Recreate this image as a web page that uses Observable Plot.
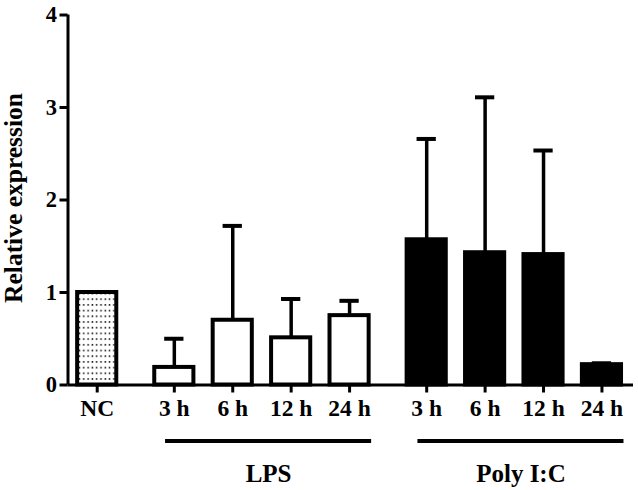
<!DOCTYPE html>
<html>
<head>
<meta charset="utf-8">
<script src="https://cdn.jsdelivr.net/npm/d3@7"></script>
<script src="https://cdn.jsdelivr.net/npm/@observablehq/plot@0.6"></script>
<style>
  html, body { margin: 0; padding: 0; background: #fff; }
  svg { font-family: "Liberation Serif", "Times New Roman", serif; }
</style>
</head>
<body>
<div id="chart"></div>
<script>
// Data
const tickLabels = ["NC", "3 h", "6 h", "12 h", "24 h", "3 h", "6 h", "12 h", "24 h"];
const groups = ["NC", "LPS", "LPS", "LPS", "LPS", "Poly I:C", "Poly I:C", "Poly I:C", "Poly I:C"];
const groupNames = ["LPS", "Poly I:C"];
const means = [1.0, 0.19, 0.70, 0.51, 0.75, 1.57, 1.43, 1.41, 0.22];
const upper = [null, 0.50, 1.72, 0.93, 0.91, 2.66, 3.11, 2.535, 0.235];
const yTicks = [0, 1, 2, 3, 4];

// Layout: groups separated by an extra gap
const groupGap = 0.32;
const groupOrder = ["NC", "LPS", "Poly I:C"];
const data = means.map((m, i) => ({
  label: tickLabels[i],
  group: groups[i],
  mean: m,
  upper: upper[i],
  pos: i + groupGap * groupOrder.indexOf(groups[i])
}));
const positions = data.map(d => d.pos);
const labelMap = new Map(data.map(d => [d.pos, d.label]));
const halfW = 0.335;
const capHalf = 0.165;
const xMin = -0.5, xMax = 9.18;

const groupLines = groupNames.map(g => {
  const ps = data.filter(d => d.group === g).map(d => d.pos);
  return { name: g, x1: d3.min(ps) - 0.15, x2: d3.max(ps) + 0.377 };
});

const errData = data.filter(d => d.upper != null);

const chart = Plot.plot({
  width: 638,
  height: 490,
  marginLeft: 67.5,
  marginRight: 5,
  marginTop: 14.5,
  marginBottom: 105.5,
  x: { type: "linear", domain: [xMin, xMax] },
  y: { domain: [0, 4] },
  style: { fontFamily: "Liberation Serif, Times New Roman, serif", color: "black", background: "white" },
  marks: [
    // error bars
    Plot.ruleX(errData, { x: "pos", y1: "mean", y2: "upper", stroke: "black", strokeWidth: 3.5 }),
    Plot.ruleY(errData, { y: "upper", x1: d => d.pos - capHalf, x2: d => d.pos + capHalf, stroke: "black", strokeWidth: 4 }),
    // bars
    Plot.rect(data.filter(d => d.group === "NC"), { x1: d => d.pos - halfW, x2: d => d.pos + halfW, y1: 0, y2: "mean", fill: "url(#dots)", stroke: "black", strokeWidth: 4 }),
    Plot.rect(data.filter(d => d.group === "LPS"), { x1: d => d.pos - halfW, x2: d => d.pos + halfW, y1: 0, y2: "mean", fill: "white", stroke: "black", strokeWidth: 4 }),
    Plot.rect(data.filter(d => d.group === "Poly I:C"), { x1: d => d.pos - halfW, x2: d => d.pos + halfW, y1: 0, y2: "mean", fill: "black", stroke: "black", strokeWidth: 4 }),
    // axes
    Plot.ruleY([0], { x1: xMin, x2: xMax, stroke: "black", strokeWidth: 3 }),
    Plot.ruleX([xMin], { y1: 0, y2: 4, stroke: "black", strokeWidth: 3 }),
    Plot.axisY({ ticks: yTicks, tickFormat: d => String(d), tickSize: 8, tickPadding: 3, fontSize: 22.5, fontWeight: "bold", strokeWidth: 3, label: null }),
    Plot.axisX({ ticks: positions, tickFormat: d => labelMap.get(d), tickSize: 8, tickPadding: 6.5, fontSize: 23.5, fontWeight: "bold", strokeWidth: 3, label: null }),
    // y label
    Plot.text(["Relative expression"], { frameAnchor: "left", textAnchor: "middle", rotate: -90, dx: -54, dy: -2, fontSize: 25.5, fontWeight: "bold", fill: "black" }),
    // group lines and labels
    Plot.ruleY(groupLines, { x1: "x1", x2: "x2", y: 0, dy: 56, stroke: "black", strokeWidth: 4 }),
    Plot.text(groupLines, { x: d => (d.x1 + d.x2) / 2, y: 0, dy: 88.5, text: "name", fontSize: 25, fontWeight: "bold", fill: "black" })
  ]
});

// dotted pattern for NC bar
const defs = d3.select(chart).insert("defs", ":first-child");
const pat = defs.append("pattern")
  .attr("id", "dots")
  .attr("patternUnits", "userSpaceOnUse")
  .attr("width", 4.3)
  .attr("height", 5.7);
pat.append("rect").attr("width", 4.3).attr("height", 5.7).attr("fill", "white");
pat.append("circle").attr("cx", 2.1).attr("cy", 2.8).attr("r", 0.85).attr("fill", "#000");

document.getElementById("chart").appendChild(chart);
</script>
</body>
</html>
